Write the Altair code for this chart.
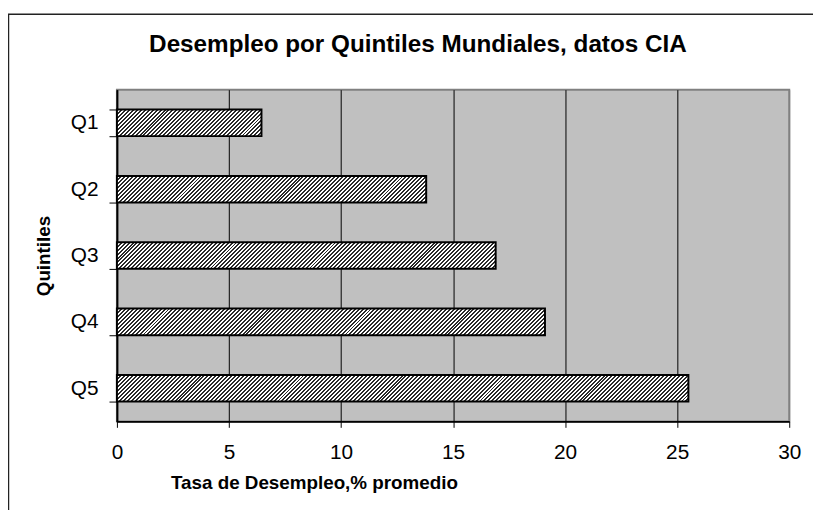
import altair as alt
import pandas as pd

# ---- data ----
quintiles = ["Q1", "Q2", "Q3", "Q4", "Q5"]
unemployment = [6.45, 13.8, 16.9, 19.1, 25.5]
x_ticks = [0, 5, 10, 15, 20, 25, 30]

chart_title = "Desempleo por Quintiles Mundiales, datos CIA"
x_title = "Tasa de Desempleo,% promedio"
y_title = "Quintiles"

# ---- layout / style ----
FONT = "Liberation Sans"
PLOT_W, PLOT_H = 679, 335
X_MAX = 30
PAD_INNER, PAD_OUTER = 0.6, 0.3
STEP = PLOT_H / (len(quintiles) - PAD_INNER + 2 * PAD_OUTER)
BAR_H = STEP * (1 - PAD_INNER)
DARK, LIGHT = "#2a2a2a", "#ffffff"


def hatch(w, h, period=4.0):
    """Diagonal '/' hatching built as a hard-stop linear gradient."""
    k = h / w
    a = (w + h) / (w * (1 + k * k))
    dt = period / (w + h)
    stops = []
    j = 0
    while j * dt < 1:
        t0 = j * dt
        t1 = min((j + 0.5) * dt, 1)
        t2 = min((j + 1) * dt, 1)
        stops += [
            {"offset": t0, "color": DARK},
            {"offset": t1, "color": DARK},
            {"offset": t1, "color": LIGHT},
            {"offset": t2, "color": LIGHT},
        ]
        j += 1
    return {"gradient": "linear", "x1": 0, "y1": 0, "x2": a, "y2": a * k, "stops": stops}


df = pd.DataFrame({"q": quintiles, "v": unemployment})

x_enc = alt.X(
    "v:Q",
    scale=alt.Scale(domain=[0, X_MAX], nice=False, zero=True),
    axis=alt.Axis(
        values=x_ticks,
        grid=True,
        gridColor={"condition": {"test": "datum.value == 30", "value": "#808080"}, "value": "#000000"},
        gridWidth=1,
        domainColor="#000000",
        domainWidth=2,
        tickColor="#000000",
        tickSize=6,
        tickWidth=1,
        labelFont=FONT,
        labelFontSize=21,
        labelColor="#000000",
        labelPadding=14,
        labelFlush=False,
        title=x_title,
        titleFont=FONT,
        titleFontSize=19,
        titleFontWeight="bold",
        titleColor="#000000",
        titleX=199,
        titleY=68,
        titleAlign="center",
        titleBaseline="alphabetic",
    ),
)

y_enc = alt.Y(
    "q:N",
    sort=quintiles,
    scale=alt.Scale(paddingInner=PAD_INNER, paddingOuter=PAD_OUTER),
    axis=alt.Axis(
        grid=False,
        domainColor="#000000",
        domainWidth=2,
        tickColor="#000000",
        tickWidth=1,
        tickSize=8,
        tickBand="extent",
        labelFont=FONT,
        labelFontSize=21,
        labelColor="#000000",
        labelPadding=11,
        title=y_title,
        titleFont=FONT,
        titleFontSize=19,
        titleFontWeight="bold",
        titleColor="#000000",
        titleAngle=270,
        titleX=-74,
        titleY=PLOT_H / 2,
        titleAlign="center",
        titleBaseline="middle",
    ),
)

base = alt.Chart(df).encode(x=x_enc, y=y_enc)

bar_layers = []
for q, v in zip(quintiles, unemployment):
    w = v * PLOT_W / X_MAX
    bar_layers.append(
        base.transform_filter(alt.datum.q == q).mark_bar(
            fill=hatch(w, BAR_H), stroke="#000000", strokeWidth=2
        )
    )

frame = alt.Chart(alt.Data(values=[{}])).mark_rect(
    filled=False, stroke="#222222", strokeWidth=1.5
).encode(
    x=alt.value(-109.5), x2=alt.value(900), y=alt.value(-76.3), y2=alt.value(700)
)

title = alt.Chart(alt.Data(values=[{}])).mark_text(
    text=chart_title,
    font=FONT,
    fontSize=24.5,
    fontWeight="bold",
    align="center",
    baseline="alphabetic",
    color="#000000",
).encode(x=alt.value(304), y=alt.value(-38))

chart = (
    alt.layer(frame, *bar_layers, title)
    .properties(
        width=PLOT_W,
        height=PLOT_H,
        autosize=alt.AutoSizeParams(type="none"),
        padding={"left": 110, "top": 80, "right": 24, "bottom": 87},
        background="#ffffff",
    )
    .configure_view(fill="#c0c0c0", stroke="#808080", strokeWidth=2)
)

chart.save("out.html", embed_options={"renderer": "svg", "actions": False})
